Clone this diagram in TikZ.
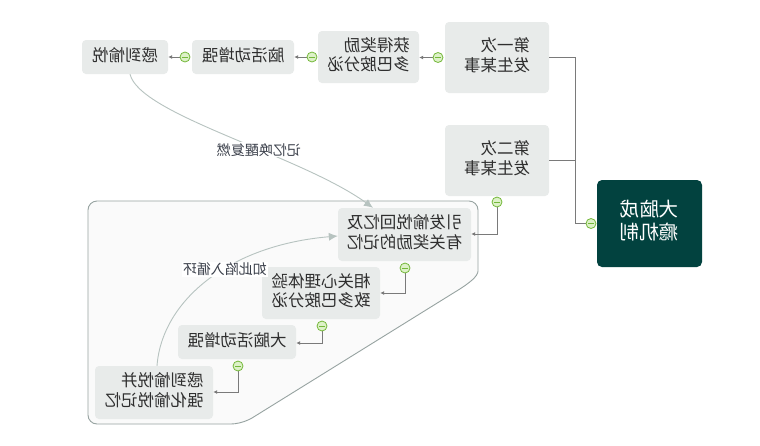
\documentclass[tikz,border=0pt]{standalone}
\usepackage{fontspec}
\usepackage{graphicx}
\setmainfont{Noto Sans CJK SC}
\usetikzlibrary{arrows.meta}
\definecolor{boxfill}{HTML}{E8EBEA}
\definecolor{rootfill}{HTML}{02423F}
\definecolor{txt}{HTML}{2E2E2E}
\definecolor{treeline}{HTML}{7A7A7A}
\definecolor{contfill}{HTML}{FAFAFA}
\definecolor{contline}{HTML}{97A3A1}
\definecolor{curvecol}{HTML}{B7C3C0}
\definecolor{knobfill}{HTML}{DDF1C8}
\definecolor{knobline}{HTML}{74B83A}
\definecolor{lbltxt}{HTML}{3A3F4A}
\newcommand{\mt}[1]{\reflectbox{\begin{tabular}{@{}l@{}}#1\end{tabular}}}
\tikzset{
  topic/.style={fill=boxfill, rounded corners=4pt, inner sep=0pt, text=txt,
    font=\fontsize{16.5}{18.5}\selectfont},
  rootbox/.style={fill=rootfill, rounded corners=5pt, inner sep=0pt, text=white,
    font=\fontsize{19.5}{22}\selectfont},
  treeconn/.style={draw=treeline, line width=0.9pt, -{Latex[length=4pt,width=4pt]}},
  treeplain/.style={draw=treeline, line width=0.9pt},
  relcurve/.style={draw=curvecol, line width=0.9pt, -{Latex[length=9pt,width=8pt]}},
  rellabel/.style={fill=white, inner sep=1pt, text=lbltxt, font=\fontsize{14}{15}\selectfont},
  knob/.style={circle, draw=knobline, fill=knobfill, line width=0.8pt, minimum size=10pt, inner sep=0pt,
    path picture={\draw[knobline, line width=0.9pt] ([xshift=-3pt]path picture bounding box.center) -- ([xshift=3pt]path picture bounding box.center);}}
}
\begin{document}
\begin{tikzpicture}[x=1pt,y=-1pt]
\useasboundingbox (0,0) rectangle (760,445);
\fill[white] (0,0) rectangle (760,445);
% container
\draw[fill=contfill, draw=contline, line width=0.9pt, rounded corners=9pt]
  (88,201) -- (478,201) -- (478,262)
  [sharp corners] .. controls (478,276) and (470,283) .. (455,292)
  -- (252,418) [rounded corners=9pt] -- (240,424) -- (88,424) -- cycle;
% nodes
\node[rootbox, minimum width=105pt, minimum height=87pt] (root) at (649.5,223.5) {\mt{大脑成\\瘾机制}};
\node[topic, minimum width=104pt, minimum height=71pt] (n1) at (497,57.5) {\mt{第一次\\发生某事}};
\node[topic, minimum width=104pt, minimum height=71pt] (n2) at (497,160.5) {\mt{第二次\\发生某事}};
\node[topic, minimum width=101pt, minimum height=52pt] (r1) at (368.5,57) {\mt{获得奖励\\多巴胺分泌}};
\node[topic, minimum width=102pt, minimum height=34pt] (r2) at (243,57) {\mt{脑活动增强}};
\node[topic, minimum width=86pt, minimum height=34pt] (r3) at (125,57) {\mt{感到愉悦}};
\node[topic, minimum width=133pt, minimum height=53pt] (c1) at (404.5,234.5) {\mt{引发愉悦回忆及\\有关奖励的记忆}};
\node[topic, minimum width=118pt, minimum height=52pt] (c2) at (321,293) {\mt{相关心理体验\\致多巴胺分泌}};
\node[topic, minimum width=118pt, minimum height=34pt] (c3) at (237,342) {\mt{大脑活动增强}};
\node[topic, minimum width=118pt, minimum height=53pt] (c4) at (154,392.5) {\mt{感到愉悦并\\强化愉悦记忆}};
% knobs positions
\coordinate (k0) at (591,223.5);
\coordinate (k1) at (438,57.5);
\coordinate (k2) at (312,57);
\coordinate (k3) at (185,57);
\coordinate (k4) at (497,202);
\coordinate (k5) at (405,268);
\coordinate (k6) at (322,326);
\coordinate (k7) at (238,366);
% tree connectors
\draw[treeplain] (k0) -- (575,223.5) -- (575,57.5) -- (n1.east |- 0,57.5);
\draw[treeplain] (575,160.5) -- (n2.east |- 0,160.5);
\draw[treeconn] (k1) -- (r1.east |- k1);
\draw[treeconn] (k2) -- (r2.east |- k2);
\draw[treeconn] (k3) -- (r3.east |- k3);
\draw[treeconn] (k4) -- (497,234) -- (c1.east |- 0,234);
\draw[treeconn] (k5) -- (405,293) -- (c2.east |- 0,293);
\draw[treeconn] (k6) -- (322,343) -- (c3.east |- 0,343);
\draw[treeconn] (k7) -- (238,392) -- (c4.east |- 0,392);
% relation curves
\draw[relcurve] (r3.south -| 130,0) .. controls (140,115) and (300,155) .. (c1.north -| 373,0)
  node[rellabel, pos=0.6] (l1) {\reflectbox{记忆唤醒复燃}};
\draw[relcurve] (c4.north -| 157,0) .. controls (162,300) and (230,245) .. (c1.west |- 0,236)
  node[rellabel, pos=0.58] (l2) {\reflectbox{如此陷入循环}};
% knobs
\foreach \k in {k0,k1,k2,k3,k4,k5,k6,k7} \node[knob] at (\k) {};
\end{tikzpicture}
\end{document}
